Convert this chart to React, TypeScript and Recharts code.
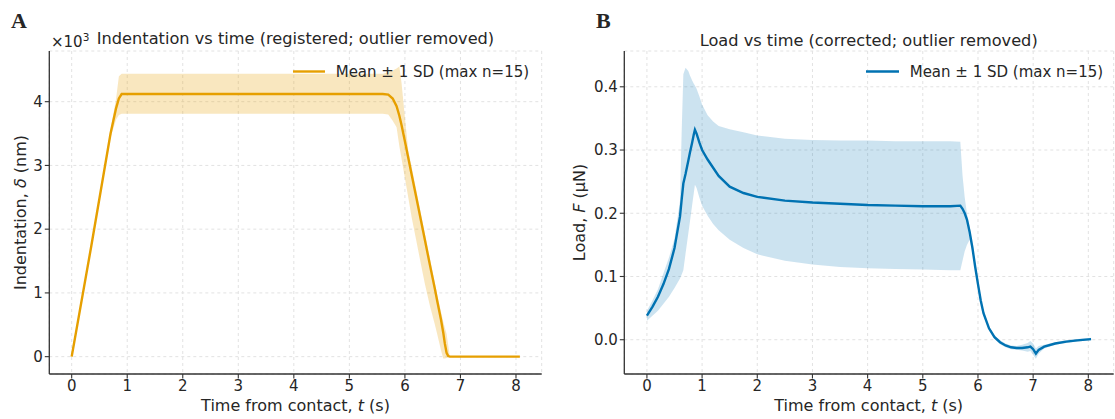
import React from "react";
import { ComposedChart, Area, Line, XAxis, YAxis, CartesianGrid } from "recharts";

// ---------- Panel A: indentation (×10^3 nm) ----------
const timeA = [0, 0.35, 0.7, 0.8, 0.85, 0.9, 1.5, 2.5, 3.5, 4.5, 5.6, 5.7, 5.78, 5.85, 5.9, 5.94, 6.0, 6.06, 6.12, 6.2, 6.3, 6.36, 6.45, 6.54, 6.58, 6.65, 6.69, 6.72, 6.75, 6.78, 6.81, 6.9, 7.5, 8.07];
const meanA = [0, 1.72, 3.5, 3.9, 4.05, 4.12, 4.12, 4.12, 4.12, 4.12, 4.12, 4.11, 4.05, 3.93, 3.78, 3.63, 3.38, 3.12, 2.86, 2.52, 2.09, 1.83, 1.44, 1.06, 0.88, 0.58, 0.38, 0.2, 0.06, 0.01, 0, 0, 0, 0];
const lowerA = [0, 1.69, 3.44, 3.72, 3.79, 3.81, 3.81, 3.81, 3.81, 3.81, 3.81, 3.8, 3.7, 3.6, 3.3, 3.1, 2.8, 2.5, 2.19, 1.84, 1.4, 1.14, 0.8, 0.5, 0.36, 0.1, -0.03, -0.03, -0.02, -0.01, 0, 0, 0, 0];
const upperA = [0, 1.75, 3.56, 4.05, 4.4, 4.44, 4.44, 4.44, 4.44, 4.44, 4.44, 4.46, 4.49, 4.52, 4.55, 4.29, 3.75, 3.24, 2.98, 2.63, 2.19, 1.93, 1.54, 1.15, 0.98, 0.7, 0.55, 0.45, 0.36, 0.18, 0, 0, 0, 0];
const ticksXA = [0, 1, 2, 3, 4, 5, 6, 7, 8];
const ticksYA = [0, 1, 2, 3, 4];

// ---------- Panel B: load (µN) ----------
const timeB = [0, 0.1, 0.2, 0.3, 0.4, 0.5, 0.6, 0.63, 0.66, 0.7, 0.75, 0.78, 0.82, 0.85, 0.87, 0.9, 0.95, 1.0, 1.1, 1.2, 1.3, 1.5, 1.75, 2.0, 2.5, 3.0, 3.5, 4.0, 4.5, 5.0, 5.5, 5.68, 5.72, 5.76, 5.8, 5.85, 5.9, 5.95, 6.0, 6.05, 6.1, 6.2, 6.3, 6.4, 6.5, 6.6, 6.7, 6.8, 6.9, 6.95, 7.0, 7.05, 7.1, 7.2, 7.4, 7.6, 7.8, 8.05];
const meanB = [0.038, 0.052, 0.068, 0.088, 0.112, 0.145, 0.195, 0.222, 0.247, 0.262, 0.283, 0.296, 0.312, 0.325, 0.332, 0.326, 0.312, 0.3, 0.285, 0.272, 0.259, 0.242, 0.232, 0.226, 0.22, 0.217, 0.215, 0.213, 0.212, 0.211, 0.211, 0.212, 0.207, 0.2, 0.19, 0.17, 0.145, 0.115, 0.088, 0.062, 0.042, 0.018, 0.004, -0.004, -0.009, -0.012, -0.013, -0.013, -0.012, -0.011, -0.015, -0.022, -0.016, -0.011, -0.006, -0.003, -0.001, 0.001];
const lowerB = [0.03, 0.038, 0.046, 0.057, 0.068, 0.082, 0.097, 0.103, 0.11, 0.136, 0.168, 0.187, 0.213, 0.232, 0.245, 0.24, 0.225, 0.212, 0.196, 0.183, 0.173, 0.158, 0.145, 0.135, 0.125, 0.119, 0.115, 0.113, 0.112, 0.111, 0.11, 0.11, 0.125, 0.14, 0.15, 0.158, 0.138, 0.11, 0.084, 0.058, 0.038, 0.015, 0.001, -0.007, -0.012, -0.015, -0.016, -0.017, -0.019, -0.018, -0.024, -0.03, -0.022, -0.014, -0.008, -0.005, -0.003, -0.001];
const upperB = [0.046, 0.062, 0.08, 0.105, 0.13, 0.16, 0.22, 0.33, 0.42, 0.43, 0.425, 0.418, 0.41, 0.405, 0.402, 0.397, 0.385, 0.372, 0.355, 0.345, 0.338, 0.333, 0.328, 0.323, 0.318, 0.316, 0.315, 0.315, 0.314, 0.314, 0.314, 0.313, 0.26, 0.225, 0.2, 0.178, 0.15, 0.12, 0.092, 0.066, 0.046, 0.021, 0.007, -0.001, -0.006, -0.009, -0.01, -0.008, -0.005, -0.002, -0.006, -0.014, -0.01, -0.008, -0.004, -0.001, 0.001, 0.003];
const ticksXB = [0, 1, 2, 3, 4, 5, 6, 7, 8];
const ticksYB = [0, 0.1, 0.2, 0.3, 0.4];

const dataA = timeA.map((t, i) => ({ t, mean: meanA[i], band: [lowerA[i], upperA[i]] }));
const dataB = timeB.map((t, i) => ({ t, mean: meanB[i], band: [lowerB[i], upperB[i]] }));

const FONT = "'DejaVu Sans', sans-serif";
const TXT = "#262626";
const AXIS = "#333333";
const ORANGE = "#E69F00";
const BLUE = "#0072B2";

const tickStyle = { fill: TXT, fontSize: 15, fontFamily: FONT };

export default function App() {
  return (
    <div style={{ position: "absolute", left: 0, top: 0, width: 1115, height: 419, background: "#fff", overflow: "hidden" }}>
      <div style={{ position: "absolute", left: 0, top: 0 }}>
        <ComposedChart width={560} height={419} data={dataA} margin={{ top: 51, right: 18.3, bottom: 0, left: 0 }}>
          <CartesianGrid stroke="#e2e2e2" strokeDasharray="3 3" />
          <XAxis dataKey="t" type="number" domain={[-0.403, 8.463]} ticks={ticksXA} allowDataOverflow height={45}
            axisLine={{ stroke: AXIS, strokeWidth: 1.3 }} tickLine={{ stroke: AXIS, strokeWidth: 1.1 }} tickSize={4.5} tickMargin={2} tick={tickStyle} />
          <YAxis type="number" domain={[-0.272, 4.795]} ticks={ticksYA} allowDataOverflow width={49.3}
            axisLine={{ stroke: AXIS, strokeWidth: 1.3 }} tickLine={{ stroke: AXIS, strokeWidth: 1.1 }} tickSize={4.5} tickMargin={2} tick={tickStyle} />
          <Area dataKey="band" type="linear" stroke="none" fill={ORANGE} fillOpacity={0.25} isAnimationActive={false} />
          <Line dataKey="mean" type="linear" stroke={ORANGE} strokeWidth={2.4} dot={false} isAnimationActive={false} />
        </ComposedChart>
      </div>
      <div style={{ position: "absolute", left: 560, top: 0 }}>
        <ComposedChart width={555} height={419} data={dataB} margin={{ top: 51, right: 1.3, bottom: 0, left: 0 }}>
          <CartesianGrid stroke="#e2e2e2" strokeDasharray="3 3" />
          <XAxis dataKey="t" type="number" domain={[-0.41, 8.46]} ticks={ticksXB} allowDataOverflow height={45}
            axisLine={{ stroke: AXIS, strokeWidth: 1.3 }} tickLine={{ stroke: AXIS, strokeWidth: 1.1 }} tickSize={4.5} tickMargin={2} tick={tickStyle} />
          <YAxis type="number" domain={[-0.0542, 0.4566]} ticks={ticksYB} allowDataOverflow width={64.3}
            tickFormatter={(v: number) => v.toFixed(1)}
            axisLine={{ stroke: AXIS, strokeWidth: 1.3 }} tickLine={{ stroke: AXIS, strokeWidth: 1.1 }} tickSize={4.5} tickMargin={2} tick={tickStyle} />
          <Area dataKey="band" type="linear" stroke="none" fill={BLUE} fillOpacity={0.2} isAnimationActive={false} />
          <Line dataKey="mean" type="linear" stroke={BLUE} strokeWidth={2.4} dot={false} isAnimationActive={false} />
        </ComposedChart>
      </div>
      <svg width={1115} height={419} style={{ position: "absolute", left: 0, top: 0, pointerEvents: "none" }}>
        <g fontFamily={FONT} fill={TXT}>
          {/* panel letters */}
          <text x={11} y={28} fontFamily="'Liberation Serif', 'Times New Roman', serif" fontWeight="bold" fontSize={22}>A</text>
          <text x={596} y={28} fontFamily="'Liberation Serif', 'Times New Roman', serif" fontWeight="bold" fontSize={22}>B</text>
          {/* titles */}
          <text x={295.5} y={43.5} textAnchor="middle" fontSize={16.2}>Indentation vs time (registered; outlier removed)</text>
          <text x={868.7} y={45.5} textAnchor="middle" fontSize={16.2}>Load vs time (corrected; outlier removed)</text>
          {/* offset text */}
          <text x={51} y={47} fontSize={15}>×10<tspan dy={-6} fontSize={10.5}>3</tspan></text>
          {/* legends */}
          <line x1={293} x2={325} y1={71.5} y2={71.5} stroke={ORANGE} strokeWidth={2.4} />
          <text x={335.7} y={76.8} fontSize={15}>Mean ± 1 SD (max n=15)</text>
          <line x1={866} x2={899} y1={71.5} y2={71.5} stroke={BLUE} strokeWidth={2.4} />
          <text x={909.7} y={76.8} fontSize={15}>Mean ± 1 SD (max n=15)</text>
          {/* x labels */}
          <text x={295.5} y={410.5} textAnchor="middle" fontSize={16}>Time from contact, <tspan fontStyle="italic">t</tspan> (s)</text>
          <text x={868.7} y={410.5} textAnchor="middle" fontSize={16}>Time from contact, <tspan fontStyle="italic">t</tspan> (s)</text>
          {/* y labels */}
          <text transform="translate(26,212.5) rotate(-90)" textAnchor="middle" fontSize={16}>Indentation, <tspan fontStyle="italic">δ</tspan> (nm)</text>
          <text transform="translate(585,212.5) rotate(-90)" textAnchor="middle" fontSize={16}>Load, <tspan fontStyle="italic">F</tspan> (μN)</text>
        </g>
      </svg>
    </div>
  );
}
